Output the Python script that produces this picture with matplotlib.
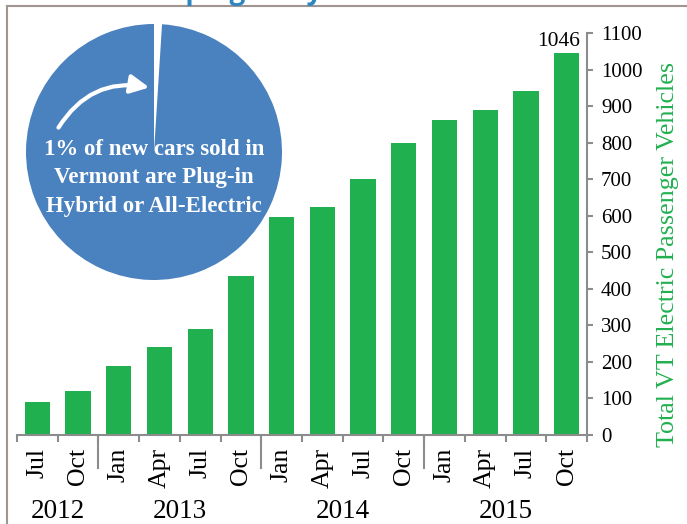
import matplotlib
matplotlib.use('Agg')
import matplotlib.pyplot as plt
import matplotlib.transforms as mtransforms
from matplotlib.patches import FancyArrowPatch
from matplotlib.lines import Line2D
import numpy as np

months = ['Jul', 'Oct', 'Jan', 'Apr', 'Jul', 'Oct', 'Jan', 'Apr', 'Jul', 'Oct', 'Jan', 'Apr', 'Jul', 'Oct']
years = ['2012', '2013', '2014', '2015']
year_counts = [2, 4, 4, 4]
totals = [90, 120, 190, 240, 290, 435, 597, 625, 700, 800, 862, 890, 940, 1046]
pie_shares = [1, 99]
pie_text = "1% of new cars sold in\nVermont are Plug-in\nHybrid or All-Electric"
ylabel = "Total VT Electric Passenger Vehicles"
title = "Growth of plug-in hybrid and electric vehicles"

GREEN = '#21b04f'
BLUE = '#4a81bf'
GRAY = '#8c8c8c'
SERIF = ['Liberation Serif', 'DejaVu Serif']
plt.rcParams['font.family'] = SERIF

W, H = 687, 524
fig = plt.figure(figsize=(W / 100, H / 100), dpi=100)


def fx(px):
    return px / W


def fy(py):
    return 1 - py / H


# frame
fig.add_artist(Line2D([fx(7), fx(7)], [fy(6), 0], color='#a09590', lw=1.5))
fig.add_artist(Line2D([fx(7), 1], [fy(6), fy(6)], color='#a09590', lw=1.5))
# cut-off title (only its lower edge is inside the picture, as in the reference)
fig.text(fx(40), fy(-1), title, ha='left', va='baseline', fontsize=20,
         fontweight='bold', color='#2e86c1', family=['Open Sans', 'DejaVu Sans'])

# main bar axes
x0, x1, y0, y1 = 17, 587, 435, 33
ax = fig.add_axes([fx(x0), fy(y0), fx(x1) - fx(x0), fy(y1) - fy(y0)])
xs = np.arange(len(totals))
ax.bar(xs, totals, width=0.62, color=GREEN)
ax.set_xlim(-0.5, len(totals) - 0.5)
ax.set_ylim(0, 1100)
for s in ['top', 'left']:
    ax.spines[s].set_visible(False)
for s in ['right', 'bottom']:
    ax.spines[s].set_color(GRAY)
    ax.spines[s].set_linewidth(1.5)
ax.yaxis.tick_right()
ax.set_yticks(range(0, 1101, 100))
ax.tick_params(axis='y', direction='out', length=4, width=1.5, color=GRAY,
               labelsize=15, pad=6)
ax.set_xticks(xs)
ax.set_xticklabels(months, rotation=90, fontsize=18.5)
ax.tick_params(axis='x', which='major', length=0, pad=9)
ax.set_xticks(np.arange(-0.5, len(totals), 1), minor=True)
ax.tick_params(axis='x', which='minor', length=5, width=1.5, color=GRAY)

trans = mtransforms.blended_transform_factory(ax.transData, ax.transAxes)
axh = y0 - y1
start = 0
for yr, n in zip(years, year_counts):
    if start > 0:
        ax.plot([start - 0.5, start - 0.5], [0, -(468 - y0) / axh], color=GRAY,
                lw=1.5, transform=trans, clip_on=False)
    ax.text(start + (n - 1) / 2, -(511 - y0) / axh, yr, transform=trans,
            ha='center', va='center', fontsize=19.5)
    start += n

ax.annotate(str(totals[-1]), (xs[-1], totals[-1]), xytext=(-6, 1),
            textcoords='offset points', ha='center', va='bottom', fontsize=15.5)

fig.text(fx(668), fy(254), ylabel, rotation=90, color=GREEN, fontsize=18.7,
         ha='center', va='center')

# pie inset
cx, cy, r = 154, 152, 128
pax = fig.add_axes([fx(cx - r), fy(cy + r), fx(2 * r), 2 * r / H])
pax.pie(pie_shares, colors=['white', BLUE], startangle=90, counterclock=False,
        radius=1.0, wedgeprops=dict(linewidth=0))
pax.set_xlim(-1, 1)
pax.set_ylim(-1, 1)
pax.set_aspect('equal')
pax.axis('off')
pax.text(0, -(178 - cy) / r, pie_text, ha='center', va='center', color='white',
         fontsize=16.5, fontweight='bold', linespacing=1.45)
arrow = FancyArrowPatch(((57 - cx) / r, (cy - 130) / r), ((152 - cx) / r, (cy - 88) / r),
                        connectionstyle='arc3,rad=-0.35', arrowstyle='-|>',
                        mutation_scale=28, color='white', lw=3)
pax.add_patch(arrow)

fig.savefig('out.png', dpi=100)
